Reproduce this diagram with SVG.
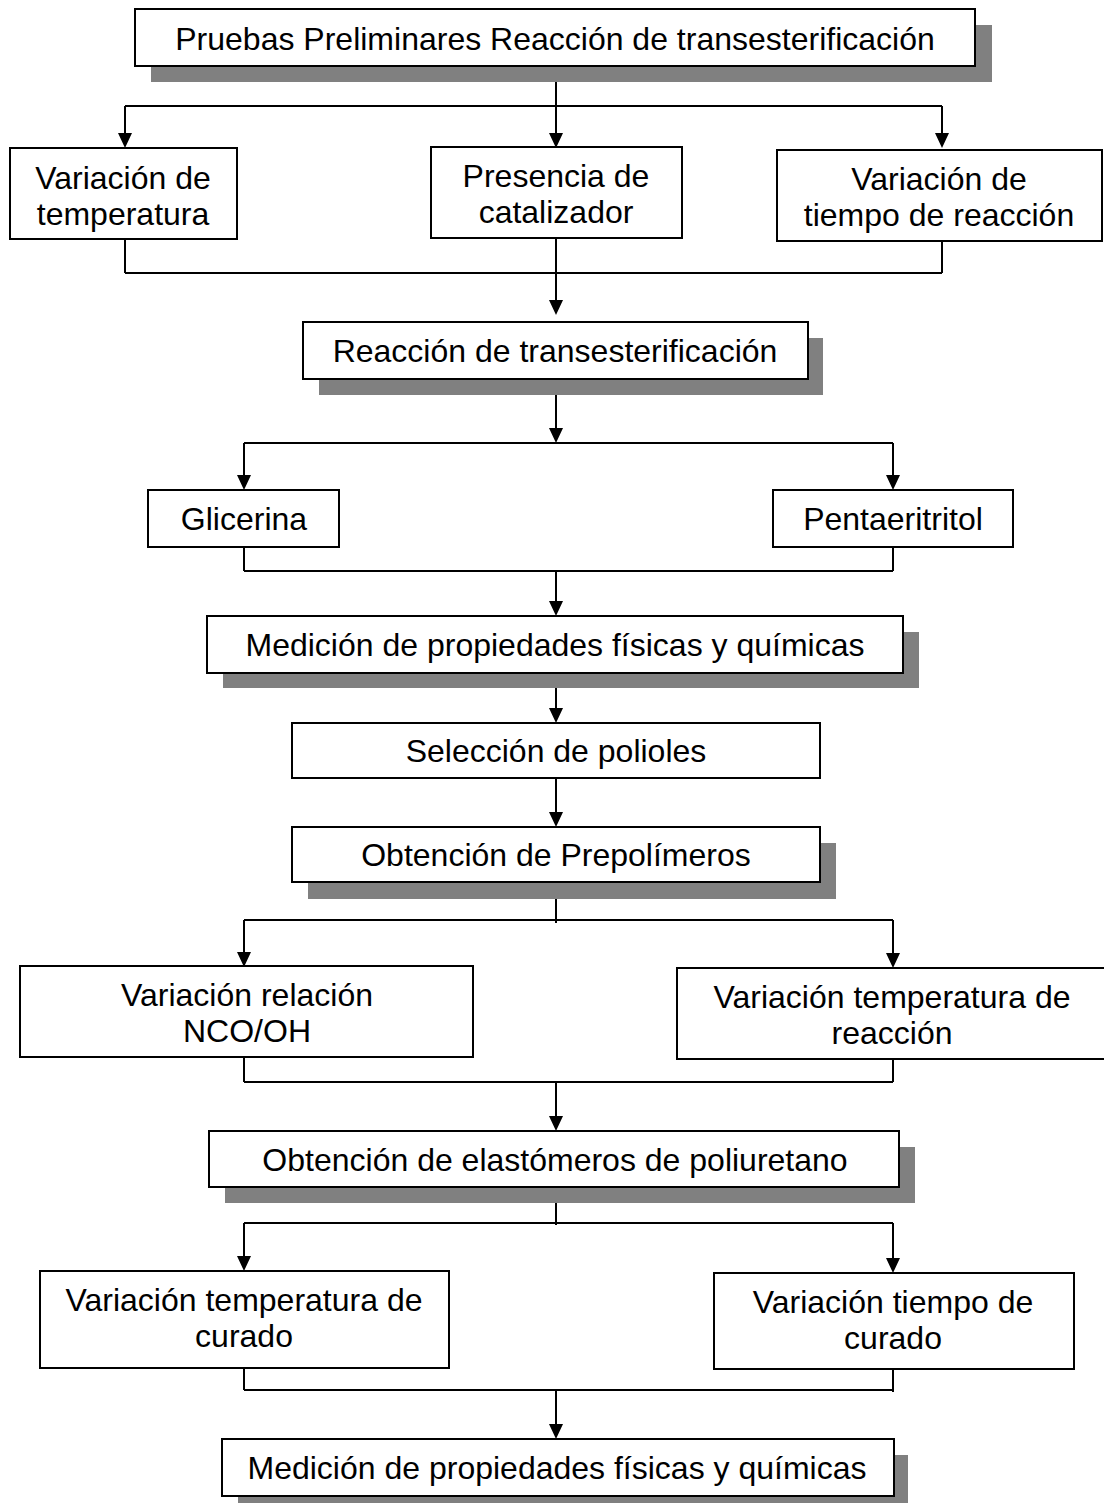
<svg xmlns="http://www.w3.org/2000/svg" width="1104" height="1503" viewBox="0 0 1104 1503">
<defs>
<style>
.box{fill:#fff;stroke:#000;stroke-width:2}
.sh{fill:#808080}
.t{font-family:"Liberation Sans",Arial,sans-serif;font-size:32px;fill:#000;text-anchor:middle}
.ln{stroke:#000;stroke-width:2;fill:none}
</style>
</defs>
<rect width="1104" height="1503" fill="#fff"/>

<g id="connectors">
<path class="ln" d="M556,66 V106 M125,106 H942"/>
<path class="ln" d="M125,106 V134 M556,106 V134 M942,106 V134"/>
<path d="M118,133 H132 L125,148 Z M549,133 H563 L556,148 Z M935,133 H949 L942,148 Z"/>
<path class="ln" d="M125,239 V273 M556,238 V302 M942,241 V273 M125,273 H942"/>
<path d="M549,300 H563 L556,315 Z"/>
<path class="ln" d="M556,395 V430"/>
<path d="M549,428 H563 L556,443 Z"/>
<path class="ln" d="M244,443 H893 M244,443 V477 M893,443 V477"/>
<path d="M237,475 H251 L244,490 Z M886,475 H900 L893,490 Z"/>
<path class="ln" d="M244,547 V571 M893,547 V571 M244,571 H893 M556,571 V603"/>
<path d="M549,601 H563 L556,616 Z"/>
<path class="ln" d="M556,688 V710"/>
<path d="M549,708 H563 L556,723 Z"/>
<path class="ln" d="M556,778 V814"/>
<path d="M549,812 H563 L556,827 Z"/>
<path class="ln" d="M556,899 V923 M244,920 H893 M244,920 V954 M893,920 V955"/>
<path d="M237,952 H251 L244,967 Z M886,953 H900 L893,968 Z"/>
<path class="ln" d="M244,1057 V1082 M893,1059 V1082 M244,1082 H893 M556,1082 V1118"/>
<path d="M549,1116 H563 L556,1131 Z"/>
<path class="ln" d="M556,1203 V1225 M244,1223 H893 M244,1223 V1258 M893,1223 V1260"/>
<path d="M237,1256 H251 L244,1271 Z M886,1258 H900 L893,1273 Z"/>
<path class="ln" d="M244,1368 V1390 M893,1369 V1392 M244,1390 H893 M556,1390 V1426"/>
<path d="M549,1424 H563 L556,1439 Z"/>
</g>

<g id="n1">
<rect class="sh" x="151" y="25" width="841" height="57"/>
<rect class="box" x="135" y="9" width="840" height="57"/>
<text class="t" x="555" y="50">Pruebas Preliminares Reacción de transesterificación</text>
</g>
<g id="n2">
<rect class="box" x="10" y="148" width="227" height="91"/>
<text class="t" x="123" y="189">Variación de</text>
<text class="t" x="123" y="225">temperatura</text>
</g>
<g id="n3">
<rect class="box" x="431" y="147" width="251" height="91"/>
<text class="t" x="556" y="187">Presencia de</text>
<text class="t" x="556" y="223">catalizador</text>
</g>
<g id="n4">
<rect class="box" x="777" y="150" width="325" height="91"/>
<text class="t" x="939" y="190">Variación de</text>
<text class="t" x="939" y="226">tiempo de reacción</text>
</g>
<g id="n5">
<rect class="sh" x="319" y="338" width="504" height="57"/>
<rect class="box" x="303" y="322" width="505" height="57"/>
<text class="t" x="555" y="362">Reacción de transesterificación</text>
</g>
<g id="n6">
<rect class="box" x="148" y="490" width="191" height="57"/>
<text class="t" x="244" y="530">Glicerina</text>
</g>
<g id="n7">
<rect class="box" x="773" y="490" width="240" height="57"/>
<text class="t" x="893" y="530">Pentaeritritol</text>
</g>
<g id="n8">
<rect class="sh" x="223" y="632" width="696" height="56"/>
<rect class="box" x="207" y="616" width="696" height="57"/>
<text class="t" x="555" y="656">Medición de propiedades físicas y químicas</text>
</g>
<g id="n9">
<rect class="box" x="292" y="723" width="528" height="55"/>
<text class="t" x="556" y="762">Selección de polioles</text>
</g>
<g id="n10">
<rect class="sh" x="308" y="843" width="528" height="56"/>
<rect class="box" x="292" y="827" width="528" height="55"/>
<text class="t" x="556" y="866">Obtención de Prepolímeros</text>
</g>
<g id="n11">
<rect class="box" x="20" y="966" width="453" height="91"/>
<text class="t" x="247" y="1006">Variación relación</text>
<text class="t" x="247" y="1042">NCO/OH</text>
</g>
<g id="n12">
<rect class="box" x="677" y="968" width="430" height="91"/>
<text class="t" x="892" y="1008">Variación temperatura de</text>
<text class="t" x="892" y="1044">reacción</text>
</g>
<g id="n13">
<rect class="sh" x="225" y="1147" width="690" height="56"/>
<rect class="box" x="209" y="1131" width="690" height="56"/>
<text class="t" x="555" y="1171">Obtención de elastómeros de poliuretano</text>
</g>
<g id="n14">
<rect class="box" x="40" y="1271" width="409" height="97"/>
<text class="t" x="244" y="1311">Variación temperatura de</text>
<text class="t" x="244" y="1347">curado</text>
</g>
<g id="n15">
<rect class="box" x="714" y="1273" width="360" height="96"/>
<text class="t" x="893" y="1313">Variación tiempo de</text>
<text class="t" x="893" y="1349">curado</text>
</g>
<g id="n16">
<rect class="sh" x="238" y="1455" width="670" height="48"/>
<rect class="box" x="222" y="1439" width="672" height="57"/>
<text class="t" x="557" y="1479">Medición de propiedades físicas y químicas</text>
</g>
</svg>
